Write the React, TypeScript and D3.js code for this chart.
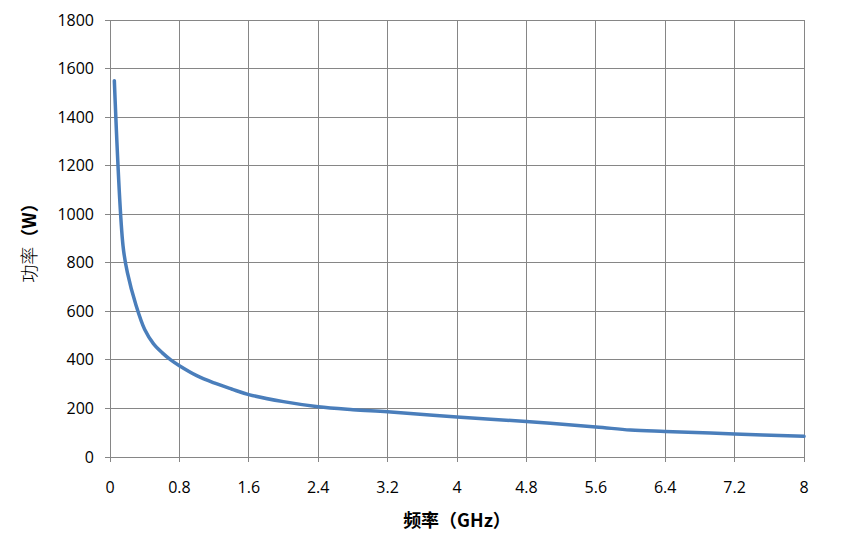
import React from "react";
import * as d3 from "d3";

const freqGHz = [0.05, 0.15, 0.2, 0.3, 0.4, 0.5, 0.6, 0.7, 0.8, 1.0, 1.2, 1.4, 1.6, 2.0, 2.4, 2.8, 3.2, 4.0, 4.8, 5.6, 6.0, 6.4, 7.2, 8.0];
const powerW = [1550, 870, 760, 625, 525, 467, 430, 400, 376, 335, 305, 280, 257, 228, 207, 195, 186, 165, 146, 124, 111, 105, 95, 85];
const xTicks = [0, 0.8, 1.6, 2.4, 3.2, 4, 4.8, 5.6, 6.4, 7.2, 8];
const yTicks = [0, 200, 400, 600, 800, 1000, 1200, 1400, 1600, 1800];

const W = 847, H = 560;
const L = 110, R = 804, T = 20, B = 457;

export default function App() {
  const x = d3.scaleLinear().domain([0, 8]).range([L, R]);
  const y = d3.scaleLinear().domain([0, 1800]).range([B, T]);
  const pts = freqGHz.map((f, i) => [f, powerW[i]] as [number, number]);
  const line = d3.line<[number, number]>().x(d => x(d[0])).y(d => y(d[1])).curve(d3.curveCatmullRom.alpha(0.5));
  const font = "Open Sans, 'Noto Sans', sans-serif";
  const grid = "#868686";
  return (
    <svg width={W} height={H} style={{ position: "absolute", left: 0, top: 0, background: "#fff" }} fontFamily={font}>
      <rect x={0} y={0} width={W} height={H} fill="#fff" />
      {yTicks.map(t => (
        <g key={"y" + t}>
          <line x1={L - 5} x2={R} y1={y(t)} y2={y(t)} stroke={grid} strokeWidth={1} shapeRendering="crispEdges" />
          <text x={L - 16} y={y(t)} dy="0.35em" textAnchor="end" fontSize={16} fill="#000">{t}</text>
        </g>
      ))}
      {xTicks.map(t => (
        <g key={"x" + t}>
          <line x1={x(t)} x2={x(t)} y1={T} y2={B + 5} stroke={grid} strokeWidth={1} shapeRendering="crispEdges" />
          <text x={x(t)} y={B + 36} textAnchor="middle" fontSize={16} fill="#000">{t}</text>
        </g>
      ))}
      <path d={line(pts) || ""} fill="none" stroke="#4A7EBB" strokeWidth={3.5} strokeLinejoin="round" strokeLinecap="round" />
      <text x={(L + R) / 2} y={527} textAnchor="middle" fontSize={18} fontWeight="bold" fill="#000" fontFamily="'Noto Sans CJK SC', sans-serif">频率（GHz）</text>
      <text transform={`translate(36, ${(T + B) / 2}) rotate(-90)`} textAnchor="middle" fontSize={18} fill="#000" fontFamily="'Noto Sans CJK SC', sans-serif">
        <tspan fontWeight={300}>功率</tspan><tspan fontWeight="bold">（W）</tspan>
      </text>
    </svg>
  );
}
